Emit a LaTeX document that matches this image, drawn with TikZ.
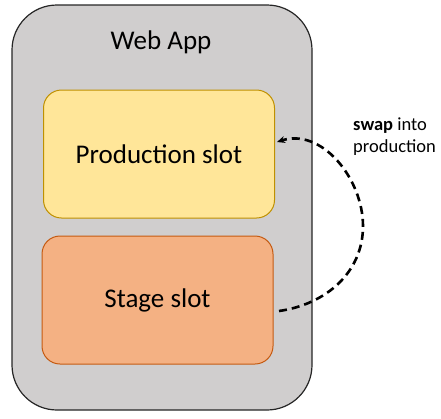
\documentclass[tikz,border=0pt]{standalone}
\usepackage{fontspec}
\setmainfont{Carlito}
\usetikzlibrary{arrows.meta}
\definecolor{appgray}{HTML}{D0CECE}
\definecolor{prodfill}{HTML}{FFE699}
\definecolor{proddraw}{HTML}{BF9000}
\definecolor{stagefill}{HTML}{F4B183}
\definecolor{stagedraw}{HTML}{C55A11}
\begin{document}
\begin{tikzpicture}[x=1pt, y=-1pt, every node/.style={inner sep=0pt, font=\fontsize{27}{32}\selectfont},
  slotbox/.style={draw, line width=1pt, rounded corners=18pt, minimum width=231pt, minimum height=128pt}]
\useasboundingbox (0,0) rectangle (441,418);
\node[draw=black!85, line width=1.2pt, fill=appgray, rounded corners=45pt, minimum width=300pt, minimum height=405pt] (WA) at (162,207.5) {};
\node (WAtitle) at (161,42) {Web App};
\node[slotbox, fill=prodfill, draw=proddraw] (PS) at (159,154) {Production slot};
\node[slotbox, fill=stagefill, draw=stagedraw] (SS) at (157.5,300) {Stage slot};

%swap arrow
\coordinate (SWstart) at (279,311);
\coordinate (SWmid) at (363,226);
\coordinate (SWend) at (277,142);
\draw[line width=2.6pt, dash pattern=on 8pt off 5pt, -{Stealth[length=8pt, width=7pt]}] (SWstart) to[out=8, in=-90] (SWmid) to[out=90, in=18] (SWend);
\node[align=left, anchor=north west, font=\fontsize{18.5}{22}\selectfont] (SWlabel) at (353,118) {\textbf{swap} into\\production};
\end{tikzpicture}
\end{document}
